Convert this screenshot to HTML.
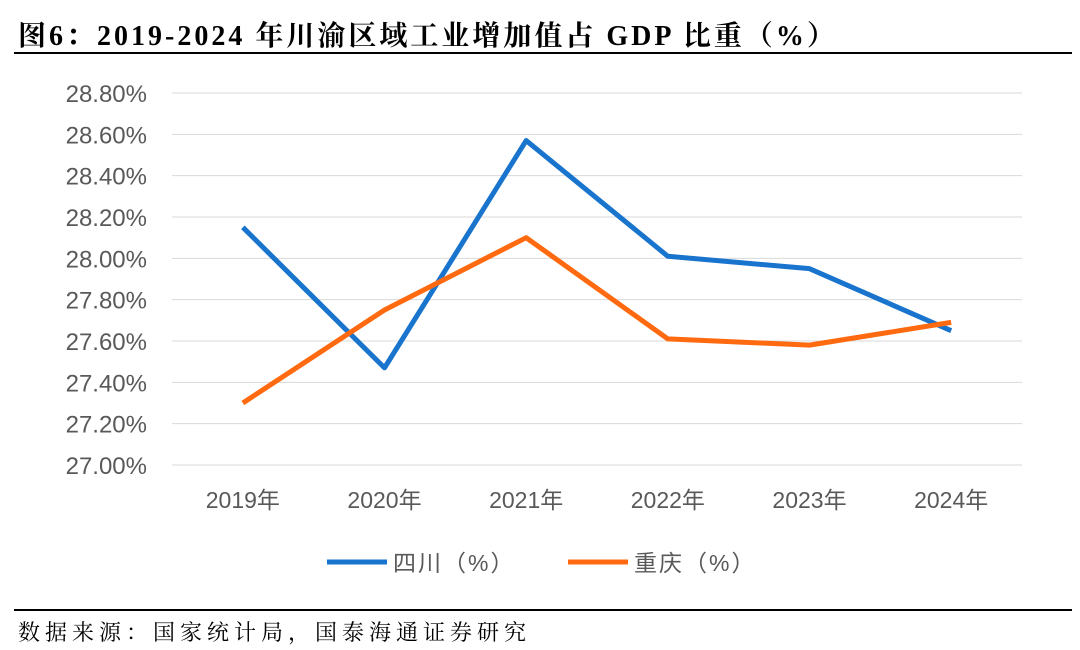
<!DOCTYPE html>
<html><head><meta charset="utf-8"><style>
body{margin:0;background:#fff;width:1080px;height:650px;overflow:hidden;font-family:"Liberation Sans","Noto Sans CJK SC",sans-serif}
#title{position:absolute;left:18px;top:14px;font-family:"Liberation Serif","Noto Serif CJK SC",serif;font-weight:bold;font-size:28px;letter-spacing:3px;color:#000;white-space:nowrap}
#src{position:absolute;left:18px;top:616px;font-family:"Liberation Serif","Noto Serif CJK SC",serif;font-size:22px;letter-spacing:5px;color:#000;white-space:nowrap}
.hr{position:absolute;left:14px;width:1058px;height:2px;background:#000}
</style></head><body>
<div id="title">图6：2019-2024 年川渝区域工业增加值占 GDP 比重（%）</div>
<div class="hr" style="top:52px"></div>
<div class="hr" style="top:609px"></div>
<div id="src">数据来源：国家统计局，国泰海通证券研究</div>
<svg id="chart" width="1080" height="650" style="position:absolute;left:0;top:0"></svg>
<script>
const categories=["2019年","2020年","2021年","2022年","2023年","2024年"];
const sichuan=[28.15,27.47,28.57,28.01,27.95,27.65];
const chongqing=[27.30,27.75,28.10,27.61,27.58,27.69];
const yTicks=[27.0,27.2,27.4,27.6,27.8,28.0,28.2,28.4,28.6,28.8];
const NS="http://www.w3.org/2000/svg";
const svg=document.getElementById('chart');
const x0=172,x1=1022,yTop=93,yBot=465,yMin=27.0,yMax=28.8;
const bw=(x1-x0)/categories.length;
function xs(i){return x0+bw*(i+0.5);}
function ys(v){return yBot-(v-yMin)/(yMax-yMin)*(yBot-yTop);}
function mk(t,a){const e=document.createElementNS(NS,t);for(const k in a)e.setAttribute(k,a[k]);svg.appendChild(e);return e;}
yTicks.forEach(v=>{
  const g=mk('line',{x1:x0,x2:x1,y1:ys(v),y2:ys(v),stroke:'#d9d9d9','stroke-width':1});
  
  
  const t=mk('text',{x:147,y:ys(v)+9,'text-anchor':'end','font-size':24,fill:'#595959'});
  t.textContent=v.toFixed(2)+'%';
  
  
});
categories.forEach((c,i)=>{
  const t=mk('text',{x:xs(i),y:508,'text-anchor':'middle','font-size':23,fill:'#595959'});
  t.textContent=c;
  
  
});
function series(arr,col,name){
  const p=mk('polyline',{points:arr.map((v,i)=>xs(i)+','+ys(v)).join(' '),fill:'none',stroke:col,'stroke-width':5,'stroke-linejoin':'round'});
  
  
}
series(sichuan,'#1874cd','sichuan-line');
series(chongqing,'#ff6a10','chongqing-line');
function legend(x,col,label,name){
  const l=mk('line',{x1:x,x2:x+60,y1:562,y2:562,stroke:col,'stroke-width':5});
  
  
  const t=mk('text',{x:x+66,y:571,'font-size':23,fill:'#595959','letter-spacing':2});
  t.textContent=label;
  
  
}
legend(327,'#1874cd','四川（%）','legend-sichuan');
legend(568,'#ff6a10','重庆（%）','legend-chongqing');
</script>
</body></html>
